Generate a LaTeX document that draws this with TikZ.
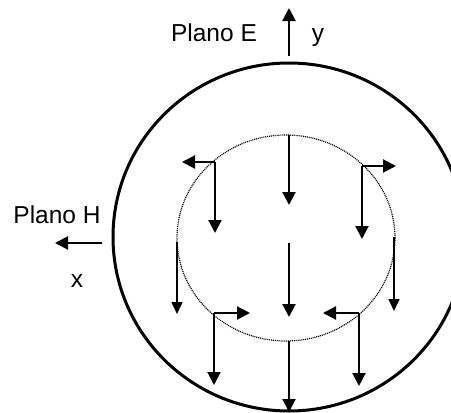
\documentclass[tikz,border=0pt]{standalone}
\usepackage{fontspec}
\setmainfont{Liberation Sans}
\usetikzlibrary{arrows.meta}
\begin{document}
\begin{tikzpicture}[x=1pt,y=-1pt,
  lbl/.style={anchor=base,inner sep=0pt,font=\fontsize{24.5}{28}\selectfont},
  vec/.style={line width=2.1pt,-{Triangle[width=13pt,length=13pt]}},
  thinvec/.style={line width=1.7pt,-{Triangle[width=11pt,length=12pt]}},
  outer/.style={line width=3pt},
  inner/.style={line width=1.2pt,dash pattern=on 1pt off 0.9pt}]
\useasboundingbox (0,0) rectangle (451,413);
\clip (0,0) rectangle (451,413);
\fill[white] (0,0) rectangle (451,413);
% circles
\draw[outer] (289,237) ellipse [x radius=176, y radius=174];
\draw[inner] (286,238) ellipse [x radius=109, y radius=103];
% labels
\node[lbl] (pe) at (214,41) {Plano E};
\node[lbl] (ly) at (318,41) {y};
\node[lbl] (ph) at (57,223) {Plano H};
\node[lbl] (lx) at (77,287) {x};
% axis arrows
\coordinate (ey0) at (289,56);
\coordinate (ey1) at (289,8);
\draw[vec] (ey0) -- (ey1);
\coordinate (hx0) at (102,243);
\coordinate (hx1) at (55,243);
\draw[vec] (hx0) -- (hx1);
% points
\coordinate (c1) at (289,135); \coordinate (c1e) at (289,205);
\coordinate (ul) at (215,162); \coordinate (ulh) at (182,162); \coordinate (ulv) at (215,233);
\coordinate (ur) at (362,166); \coordinate (urh) at (396,166); \coordinate (urv) at (362,239);
\coordinate (ls) at (177,242); \coordinate (lse) at (177,314);
\coordinate (rs) at (394,237); \coordinate (rse) at (394,311);
\coordinate (c2) at (289,243); \coordinate (c2e) at (289,317);
\coordinate (ll) at (214,313); \coordinate (llh) at (250,313); \coordinate (llv) at (214,385);
\coordinate (lr) at (359,313); \coordinate (lrh) at (323,313); \coordinate (lrv) at (359,386);
\coordinate (c3) at (289,341); \coordinate (c3e) at (289,412);
% field vectors
\draw[vec] (c1) -- (c1e);
\draw[vec] (ul) -- (ulh);
\draw[vec] (ul) -- (ulv);
\draw[vec] (ur) -- (urh);
\draw[vec] (ur) -- (urv);
\draw[thinvec] (ls) -- (lse);
\draw[thinvec] (rs) -- (rse);
\draw[vec] (c2) -- (c2e);
\draw[vec] (ll) -- (llh);
\draw[vec] (ll) -- (llv);
\draw[vec] (lr) -- (lrh);
\draw[vec] (lr) -- (lrv);
\draw[vec] (c3) -- (c3e);
\end{tikzpicture}
\end{document}
